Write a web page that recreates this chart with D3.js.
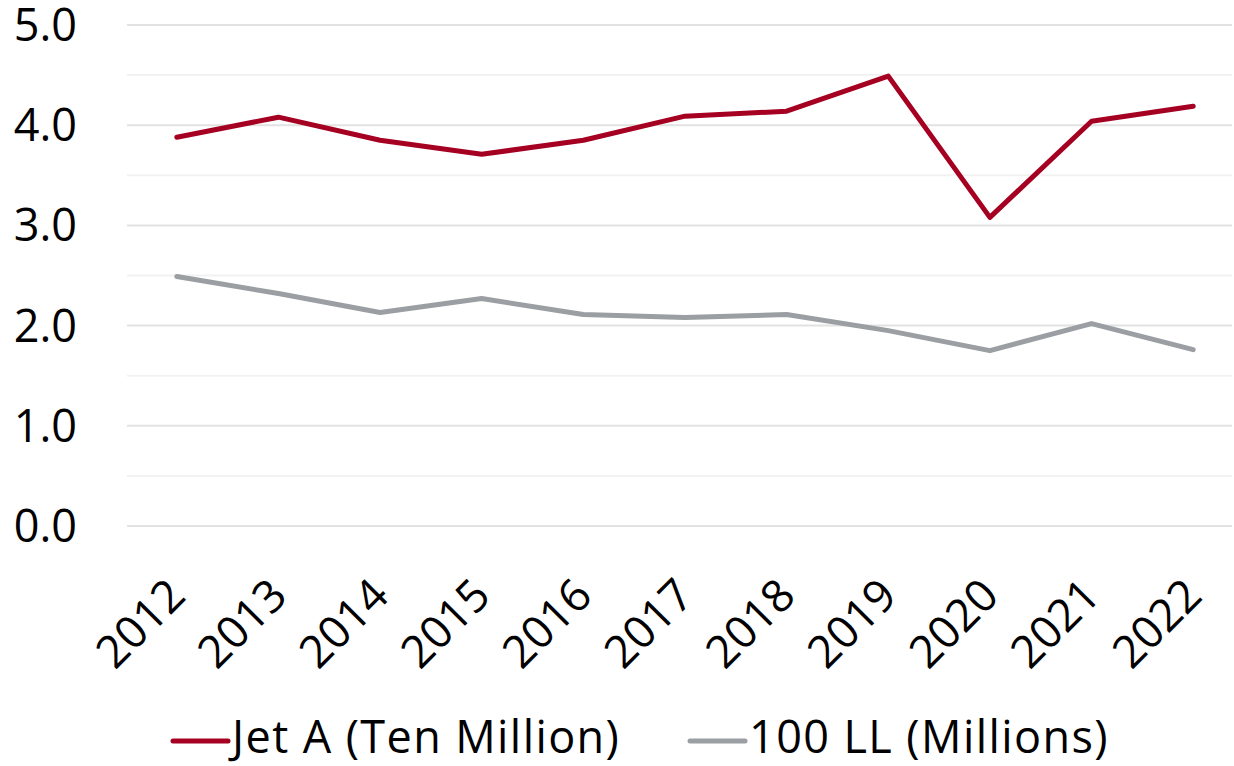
<!DOCTYPE html>
<html>
<head>
<meta charset="utf-8">
<script src="https://cdn.jsdelivr.net/npm/d3@7"></script>
<style>
  body { margin: 0; background: #fff; }
  text { font-family: "Open Sans", sans-serif; fill: #000; }
</style>
</head>
<body>
<div id="chart"></div>
<script>
// years along the bottom
const years = ['2012','2013','2014','2015','2016','2017','2018','2019','2020','2021','2022'];
// Jet A, ten millions of gallons
const jetA = [3.88, 4.08, 3.85, 3.71, 3.85, 4.09, 4.14, 4.49, 3.08, 4.04, 4.19];
// 100 LL, millions of gallons
const ll100 = [2.49, 2.32, 2.13, 2.27, 2.11, 2.08, 2.11, 1.95, 1.75, 2.02, 1.76];
const yTicks = [0, 1, 2, 3, 4, 5];
const yMinor = [0.5, 1.5, 2.5, 3.5, 4.5];
const seriesNames = ['Jet A (Ten Million)', '100 LL (Millions)'];
const seriesColors = ['#A50021', '#9B9EA2'];

const w = 1234, h = 766;
const svg = d3.select('#chart').append('svg').attr('width', w).attr('height', h);

const plotLeft = 127, plotRight = 1232;
const x = d3.scalePoint().domain(years).range([126, 1244]).padding(0.5);
const y = d3.scaleLinear().domain([0, 5]).range([526, 25]);

// gridlines, the half steps lighter
svg.selectAll('.minor').data(yMinor).enter().append('line')
  .attr('x1', plotLeft).attr('x2', plotRight)
  .attr('y1', d => y(d)).attr('y2', d => y(d))
  .attr('stroke', '#f2f2f2').attr('stroke-width', 2);
svg.selectAll('.major').data(yTicks).enter().append('line')
  .attr('x1', plotLeft).attr('x2', plotRight)
  .attr('y1', d => y(d)).attr('y2', d => y(d))
  .attr('stroke', '#e2e2e2').attr('stroke-width', 2);

// y labels
svg.selectAll('.ylab').data(yTicks).enter().append('text')
  .attr('x', 77).attr('y', d => y(d) + 16)
  .attr('text-anchor', 'end')
  .style('font-size', '45px')
  .text(d => d.toFixed(1));

// x labels, turned 45 degrees
svg.selectAll('.xlab').data(years).enter().append('text')
  .attr('text-anchor', 'end')
  .attr('transform', d => `translate(${x(d) + 11},${598}) rotate(-45)`)
  .style('font-size', '45px')
  .text(d => d);

const line = d3.line()
  .x((d, i) => x(years[i]))
  .y(d => y(d));

[jetA, ll100].forEach(function (data, k) {
  svg.append('path')
    .datum(data)
    .attr('d', line)
    .attr('fill', 'none')
    .attr('stroke', seriesColors[k])
    .attr('stroke-width', 5)
    .attr('stroke-linejoin', 'round')
    .attr('stroke-linecap', 'round');
});

// legend
const legX = [173, 690];
const legY = 741;
seriesNames.forEach(function (name, k) {
  svg.append('line')
    .attr('x1', legX[k]).attr('x2', legX[k] + 55)
    .attr('y1', legY).attr('y2', legY)
    .attr('stroke', seriesColors[k]).attr('stroke-width', 5)
    .attr('stroke-linecap', 'round');
  svg.append('text')
    .attr('x', legX[k] + 59).attr('y', 753)
    .style('font-size', '45px')
    .style('letter-spacing', '1.4px')
    .text(name);
});
</script>
</body>
</html>
